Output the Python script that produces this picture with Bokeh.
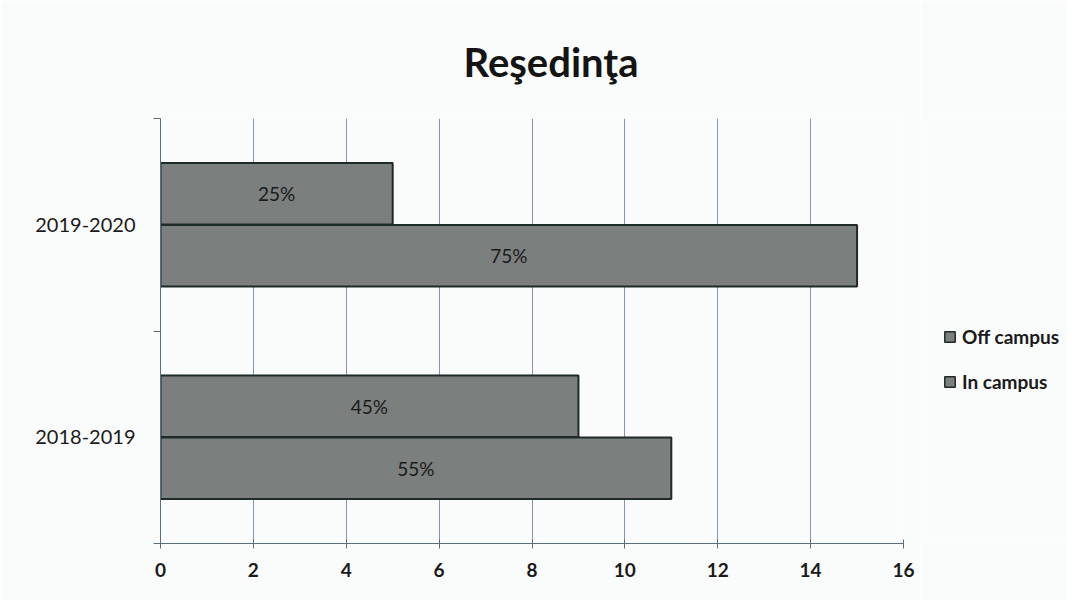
from bokeh.plotting import figure
from bokeh.layouts import row
from bokeh.models import Range1d, FixedTicker, ColumnDataSource, Legend, LegendItem, LabelSet
from bokeh.transform import dodge
from bokeh.core.properties import value
from bokeh.embed import file_html
from bokeh.resources import INLINE

years = ["2018-2019", "2019-2020"]
off_campus = [11, 15]
in_campus = [9, 5]
off_pct = ["55%", "75%"]
in_pct = ["45%", "25%"]
x_ticks = [0, 2, 4, 6, 8, 10, 12, 14, 16]
series = ["Off campus", "In campus"]

ypos = [i + 0.5 for i in range(len(years))]
src = ColumnDataSource(dict(y=ypos, off=off_campus, inc=in_campus,
                            off_mid=[v / 2 for v in off_campus],
                            in_mid=[v / 2 for v in in_campus],
                            off_pct=off_pct, in_pct=in_pct))

FONT = "Lato"
BG = "#fafbfb"
fill = "#7b807f"
edge = "#1e2a2a"
axis_c = "#5a6e7e"

p = figure(width=920, height=600, output_backend="svg", toolbar_location=None,
           x_range=Range1d(0, 16), y_range=Range1d(0, len(years)),
           min_border_left=160, min_border_right=17, min_border_bottom=57, min_border_top=118)

p.title.text = "Reşedinţa"
p.title.align = "left"
p.title.text_font = FONT
p.title.text_font_size = "40px"
p.title.text_font_style = "bold"
p.title.text_color = "#141414"
p.title.offset = 303
p.title.standoff = 65

r_off = p.hbar(y=dodge("y", -0.146, range=p.y_range), right="off", left=0, height=0.29,
               source=src, fill_color=fill, line_color=edge, line_width=2)
r_in = p.hbar(y=dodge("y", 0.146, range=p.y_range), right="inc", left=0, height=0.29,
              source=src, fill_color=fill, line_color=edge, line_width=2)

for xcol, tcol, off in [("off_mid", "off_pct", -0.146), ("in_mid", "in_pct", 0.146)]:
    p.add_layout(LabelSet(x=xcol, y=dodge("y", off, range=p.y_range), text=tcol, source=src,
                          text_align="center", text_baseline="middle", text_font=value(FONT),
                          text_font_size=value("19px"), text_color="#1a1a1a"))

p.xaxis.ticker = FixedTicker(ticks=x_ticks)
p.xaxis.major_label_text_font = FONT
p.xaxis.major_label_text_font_size = "19px"
p.xaxis.major_label_text_font_style = "bold"
p.xaxis.major_label_text_color = "#1a1a1a"
p.xaxis.major_label_standoff = 14
p.xaxis.axis_line_color = axis_c
p.xaxis.major_tick_line_color = axis_c
p.xaxis.major_tick_in = 4
p.xaxis.major_tick_out = 5
p.xaxis.minor_tick_line_color = None

p.yaxis.ticker = FixedTicker(ticks=ypos, minor_ticks=[0, 1, 2])
p.yaxis.major_label_overrides = {v: y for v, y in zip(ypos, years)}
p.yaxis.major_label_text_font = FONT
p.yaxis.major_label_text_font_size = "20px"
p.yaxis.major_label_text_color = "#1a1a1a"
p.yaxis.major_label_standoff = 18
p.yaxis.major_tick_line_color = None
p.yaxis.minor_tick_line_color = axis_c
p.yaxis.minor_tick_in = 0
p.yaxis.minor_tick_out = 7
p.yaxis.axis_line_color = axis_c

p.xgrid.ticker = FixedTicker(ticks=x_ticks)
p.xgrid.grid_line_color = "#8298aa"
p.xgrid.grid_line_width = 1
p.ygrid.grid_line_color = None
p.outline_line_color = None
p.background_fill_color = BG
p.border_fill_color = BG

# legend panel
q = figure(width=147, height=600, output_backend="svg", toolbar_location=None,
           x_range=Range1d(0, 1), y_range=Range1d(0, 1),
           min_border_left=0, min_border_right=0, min_border_bottom=0, min_border_top=0)
q.axis.visible = False
q.grid.visible = False
q.outline_line_color = None
q.background_fill_color = BG
q.border_fill_color = BG
# legend swatches only (no visible data)
nan = float("nan")
lo = q.hbar(y=[nan], right=[nan], height=0.1, fill_color=fill, line_color=edge, line_width=1.5)
li = q.hbar(y=[nan], right=[nan], height=0.1, fill_color=fill, line_color=edge, line_width=1.5)
legend = Legend(items=[LegendItem(label=series[0], renderers=[lo]),
                       LegendItem(label=series[1], renderers=[li])],
                location=(23, 150), border_line_color=None, background_fill_alpha=0,
                label_text_font=FONT, label_text_font_size="19px", label_text_font_style="bold",
                label_text_color="#1a1a1a", glyph_width=13, glyph_height=13, label_standoff=6,
                spacing=22, padding=0, margin=0)
q.add_layout(legend)

layout = row(p, q, spacing=0)
open("out.html", "w").write(file_html(layout, INLINE))
